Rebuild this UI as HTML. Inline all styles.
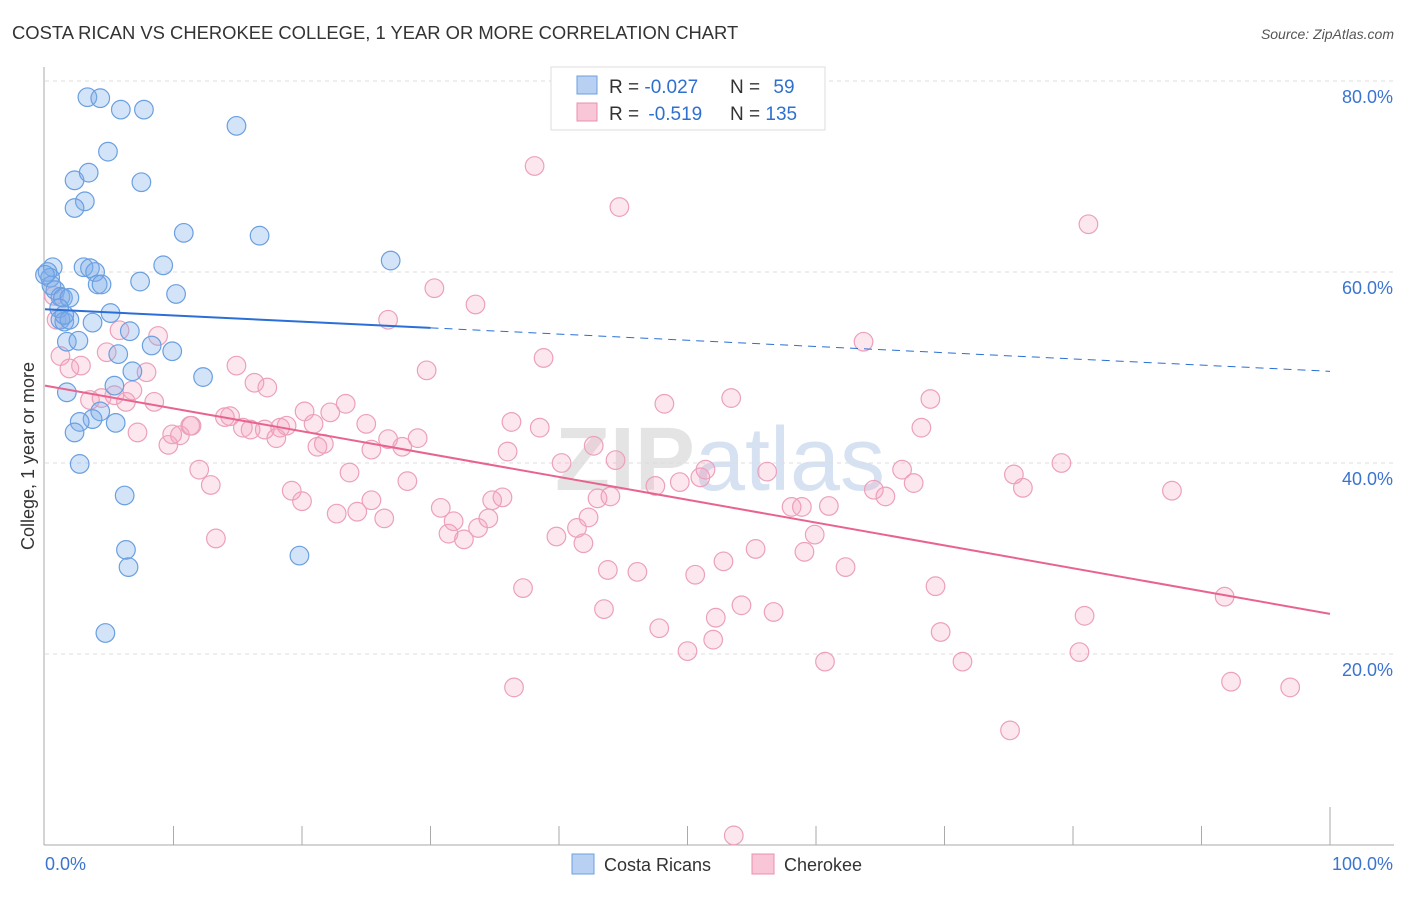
<!DOCTYPE html>
<html><head><meta charset="utf-8"><style>
body{margin:0;background:#fff;font-family:"Liberation Sans",sans-serif;}
svg text{font-family:"Liberation Sans",sans-serif;}
</style></head><body>
<svg width="1406" height="892" viewBox="0 0 1406 892">
<text x="12" y="39" font-size="18.4" fill="#333">COSTA RICAN VS CHEROKEE COLLEGE, 1 YEAR OR MORE CORRELATION CHART</text>
<text x="1394" y="39" font-size="14" fill="#555" text-anchor="end" font-style="italic">Source: ZipAtlas.com</text>
<text x="720" y="490" font-size="90" fill="#e4e4e4" text-anchor="middle" font-weight="bold">ZIP<tspan fill="#d6e2f2" font-weight="normal">atlas</tspan></text>
<g id="grid"></g>
<g id="axes"></g>
<g id="pts"></g>
<g id="trends"></g>
<text transform="translate(34,456) rotate(-90)" font-size="18" fill="#333" text-anchor="middle">College, 1 year or more</text>
<g>
<rect x="551" y="67" width="274" height="63" fill="#fff" stroke="#ddd"/>
<rect x="577" y="76" width="20" height="18" fill="#b8d0f2" stroke="#6a9fe0"/>
<rect x="577" y="103" width="20" height="18" fill="#f8c6d6" stroke="#e890b0"/>
<text x="609" y="93" font-size="19" fill="#333">R = <tspan fill="#2f6fd0">-0.027</tspan></text>
<text x="730" y="93" font-size="19" fill="#333">N = <tspan fill="#2f6fd0" dx="8">59</tspan></text>
<text x="609" y="120" font-size="19" fill="#333">R = <tspan fill="#2f6fd0" dx="4">-0.519</tspan></text>
<text x="730" y="120" font-size="19" fill="#333">N = <tspan fill="#2f6fd0">135</tspan></text>
</g>
<g>
<rect x="572" y="854" width="22" height="20" fill="#b8d0f2" stroke="#6a9fe0"/>
<text x="604" y="871" font-size="18" fill="#333">Costa Ricans</text>
<rect x="752" y="854" width="22" height="20" fill="#f8c6d6" stroke="#e890b0"/>
<text x="784" y="871" font-size="18" fill="#333">Cherokee</text>
</g>
</svg>
<script>
const yTicks=[20,40,60,80];
const xTickVals=[0,10,20,30,40,50,60,70,80,90,100];
const blueX=[3.3,4.3,5.9,7.7,14.9,4.9,2.3,3.4,7.5,3.1,2.3,10.8,16.7,26.9,9.2,0.6,3.0,3.5,3.9,4.1,4.4,7.4,10.2,0.2,0.4,0.5,0.8,1.2,1.4,1.9,1.1,5.1,1.2,1.5,1.9,3.7,6.6,5.7,8.3,9.9,1.7,2.6,6.8,5.4,1.7,4.3,3.7,2.7,2.3,5.5,1.5,2.7,6.2,6.3,6.5,19.8,4.7,12.3,0.0];
const blueY=[78.3,78.2,77.0,77.0,75.3,72.6,69.6,70.4,69.4,67.4,66.7,64.1,63.8,61.2,60.7,60.5,60.5,60.4,60.0,58.7,58.7,59.0,57.7,60.0,59.4,58.6,58.1,57.4,57.3,57.3,56.2,55.7,55.0,54.8,55.0,54.7,53.8,51.4,52.3,51.7,52.7,52.8,49.6,48.1,47.4,45.4,44.6,44.3,43.2,44.2,55.5,39.9,36.6,30.9,29.1,30.3,22.2,49.0,59.7];
const pinkX=[38.1,44.7,81.2,30.3,33.5,26.7,38.8,63.7,0.9,0.7,1.2,1.9,2.8,5.8,8.8,4.8,7.9,14.9,16.3,17.3,3.5,4.4,5.4,6.3,6.8,8.5,7.2,9.6,10.5,9.9,11.3,14.0,14.4,15.4,16.0,17.1,18.3,18.8,18.0,20.2,22.2,23.4,25.0,20.9,21.2,21.7,25.4,27.8,26.7,29.0,29.7,36.3,38.5,36.0,42.7,44.4,48.2,53.4,68.9,68.2,43.0,44.0,40.2,47.5,49.4,51.0,51.4,56.2,12.0,12.9,19.2,20.0,22.7,23.7,24.3,25.4,26.4,28.2,30.8,31.8,31.4,33.7,32.6,34.5,34.8,35.6,39.8,41.4,41.9,42.3,13.3,37.2,43.8,46.1,50.6,52.8,55.3,59.1,59.9,61.0,58.1,58.9,62.3,64.5,65.4,66.7,67.6,75.4,76.1,79.1,87.7,69.3,43.5,47.8,50.0,52.2,52.0,54.2,56.7,60.7,69.7,71.4,75.1,80.9,80.5,91.8,92.3,96.9,36.5,53.6,11.4];
const pinkY=[71.1,66.8,65.0,58.3,56.6,55.0,51.0,52.7,55.0,57.5,51.2,49.9,50.2,53.9,53.3,51.6,49.5,50.2,48.4,47.9,46.6,46.8,47.1,46.4,47.6,46.4,43.2,41.9,42.9,43.0,43.9,44.8,44.9,43.7,43.5,43.5,43.7,43.9,42.6,45.4,45.3,46.2,44.1,44.1,41.7,42.0,41.4,41.7,42.5,42.6,49.7,44.3,43.7,41.2,41.8,40.3,46.2,46.8,46.7,43.7,36.3,36.5,40.0,37.6,38.0,38.5,39.3,39.1,39.3,37.7,37.1,36.0,34.7,39.0,34.9,36.1,34.2,38.1,35.3,33.9,32.6,33.2,32.0,34.2,36.1,36.4,32.3,33.2,31.6,34.3,32.1,26.9,28.8,28.6,28.3,29.7,31.0,30.7,32.5,35.5,35.4,35.4,29.1,37.2,36.5,39.3,37.9,38.8,37.4,40.0,37.1,27.1,24.7,22.7,20.3,23.8,21.5,25.1,24.4,19.2,22.3,19.2,12.0,24.0,20.2,26.0,17.1,16.5,16.5,1.0,43.9];
const blueTrend=[56.1,49.6];
const pinkTrend=[48.1,24.2];
const NS="http://www.w3.org/2000/svg";
const X=v=>45+v*12.85, Y=v=>845-v*9.55;
function mk(tag,attrs,parent){const e=document.createElementNS(NS,tag);for(const k in attrs)e.setAttribute(k,attrs[k]);parent.appendChild(e);return e;}
const grid=document.getElementById('grid'),axes=document.getElementById('axes'),pts=document.getElementById('pts'),tr=document.getElementById('trends');
yTicks.forEach(t=>{
  const l=mk('line',{x1:45,x2:1394,y1:Y(t),y2:Y(t),stroke:'#ddd','stroke-dasharray':'4,4'},grid);
  
  
  const tx=mk('text',{x:1393,y:Y(t)+22,'font-size':18,fill:'#3a74d0','text-anchor':'end'},axes);
  tx.textContent=t.toFixed(1)+'%';
  
  
});
const ax=mk('line',{x1:44,x2:44,y1:67,y2:845,stroke:'#aaa'},axes);


const bx=mk('line',{x1:44,x2:1394,y1:845,y2:845,stroke:'#aaa'},axes);


xTickVals.forEach(t=>{
  if(t===0)return;
  const tk=mk('line',{x1:X(t),x2:X(t),y1:t===100?807:826,y2:845,stroke:'#aaa'},axes);
  
  
});
[[0,'0.0%','start',45],[100,'100.0%','end',1393]].forEach(a=>{
  const tx=mk('text',{x:a[3],y:870,'font-size':18,fill:'#3a74d0','text-anchor':a[2]},axes);
  tx.textContent=a[1];
  
  
});
pinkX.forEach((v,i)=>{
  const c=mk('circle',{cx:X(v),cy:Y(pinkY[i]),r:9.3,fill:'rgba(242,160,188,0.25)',stroke:'#eca0bc','stroke-width':1.2},pts);
  
  
});
blueX.forEach((v,i)=>{
  const c=mk('circle',{cx:X(v),cy:Y(blueY[i]),r:9.3,fill:'rgba(120,170,232,0.32)',stroke:'#6a9fe0','stroke-width':1.2},pts);
  
  
});
const by=v=>blueTrend[0]+(blueTrend[1]-blueTrend[0])*v/100;
const b1=mk('line',{x1:X(0),y1:Y(by(0)),x2:X(30),y2:Y(by(30)),stroke:'#2a6fd6','stroke-width':2},tr);


const b2=mk('line',{x1:X(30),y1:Y(by(30)),x2:X(100),y2:Y(by(100)),stroke:'#2a6fd6','stroke-width':1,'stroke-dasharray':'8,6'},tr);


const p1=mk('line',{x1:X(0),y1:Y(pinkTrend[0]),x2:X(100),y2:Y(pinkTrend[1]),stroke:'#e8648e','stroke-width':2},tr);


</script>
</body></html>
